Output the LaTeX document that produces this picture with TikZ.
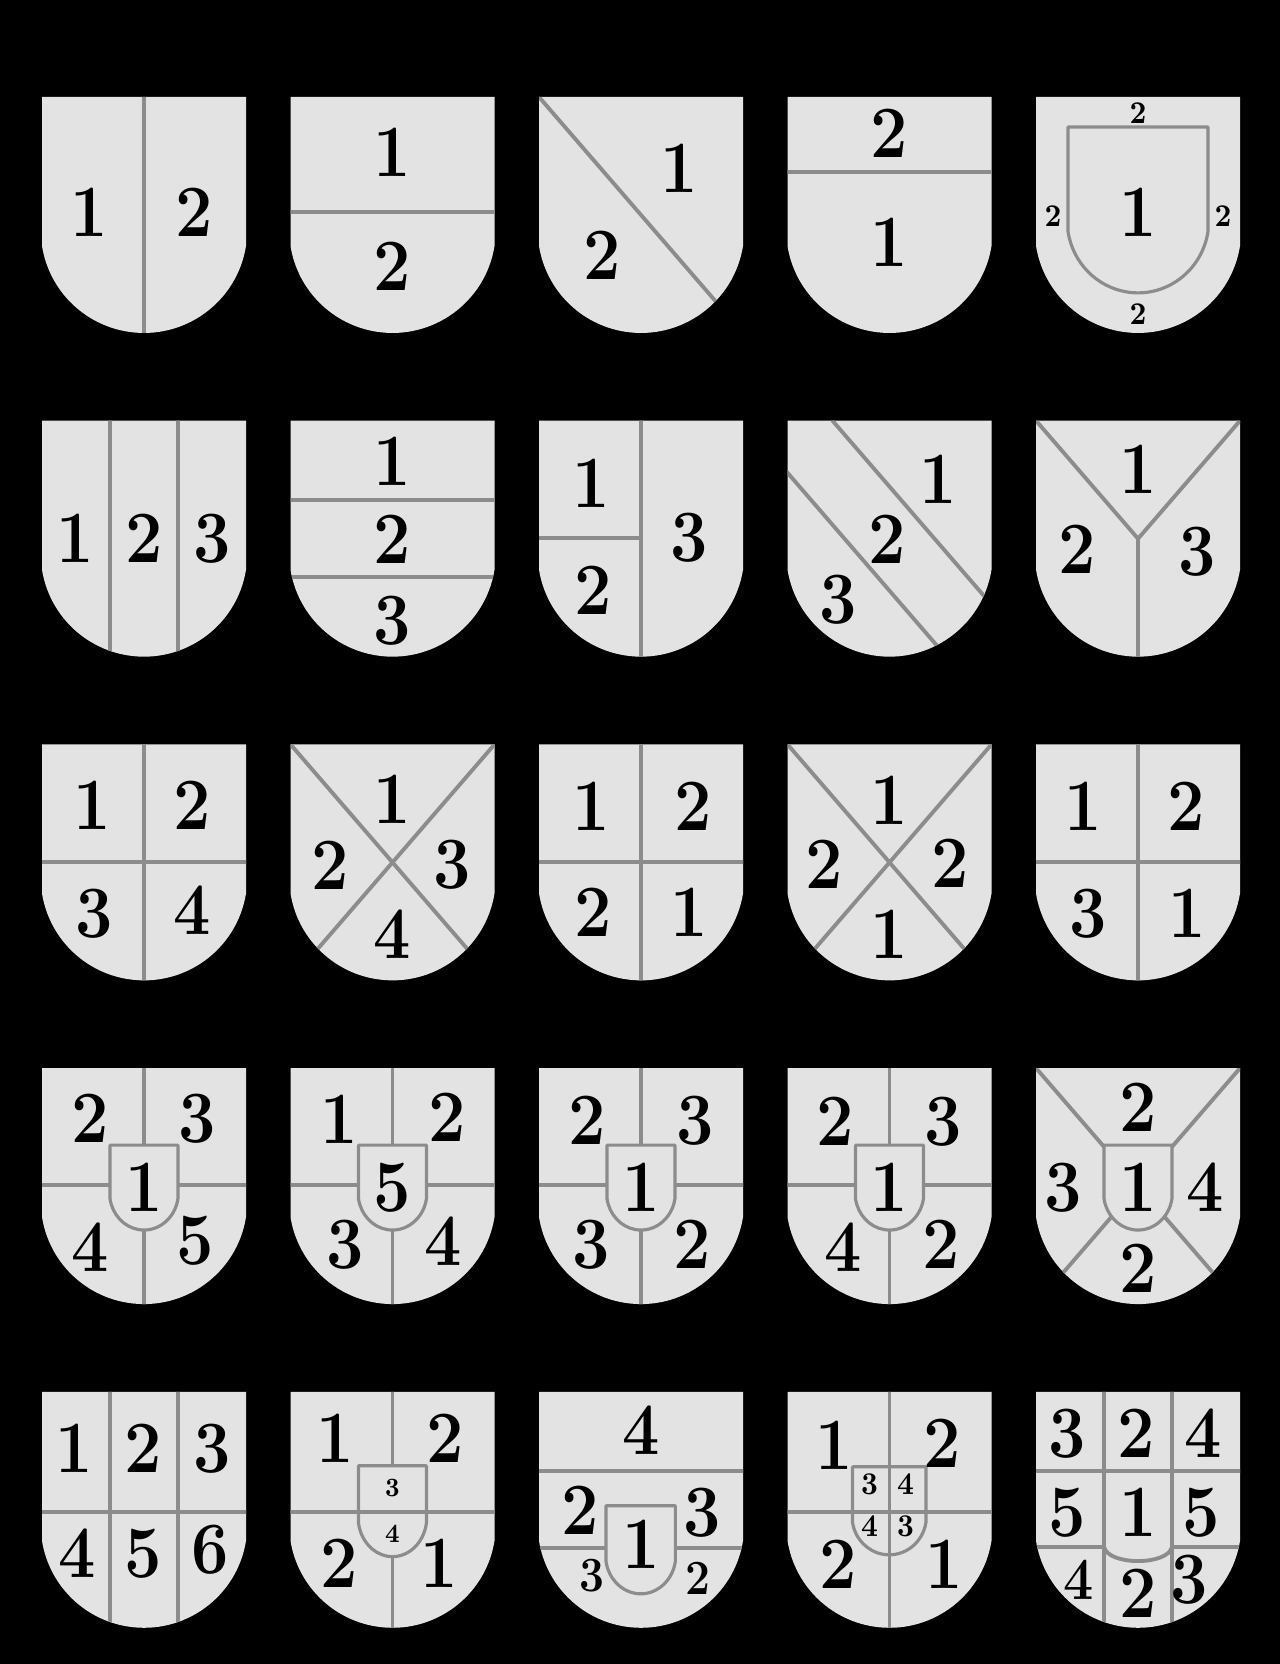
\documentclass[tikz,border=0pt]{standalone}

\definecolor{shieldgray}{RGB}{227,227,227}
\definecolor{divgray}{RGB}{140,140,140}
\def\W{2.04}
\def\H{2.36}
\newcommand{\shieldpath}{(0,0) -- (\W,0) -- (\W,-1.49) arc[start angle=-9.1,end angle=-170.9,radius=1.033] -- cycle}
\newcommand{\shieldbase}{\fill[shieldgray] \shieldpath; \clip \shieldpath;}
\newcommand{\inset}[4]{\begin{scope}[shift={(#1,#2)},xscale=#3,yscale=#4]\filldraw[fill=shieldgray,draw=divgray,line width=0.9pt] \shieldpath;\end{scope}}

\begin{document}
\begin{tikzpicture}[line cap=round,line join=round,
  every node/.style={inner sep=0pt},
  num/.style={anchor=base,xscale=0.9,font=\fontsize{21}{21}\selectfont\bfseries},
  mid/.style={num,font=\fontsize{14}{14}\selectfont\bfseries},
  sml/.style={num,font=\fontsize{9}{9}\selectfont\bfseries},
  tny/.style={num,font=\fontsize{7.5}{7.5}\selectfont\bfseries},
  div/.style={draw=divgray,line width=1.1pt}]
  \def\cA{0.42}
  \def\cB{2.905}
  \def\cC{5.39}
  \def\cD{7.875}
  \def\cE{10.36}
  \def\rA{-0.97}
  \def\rB{-4.207}
  \def\rC{-7.444}
  \def\rD{-10.681}
  \def\rE{-13.918}
  \useasboundingbox (0,0) rectangle (12.8,-16.64);
  \fill[black] (0,0) rectangle (12.8,-16.64);

  % row 1
  \begin{scope}[shift={(\cA,\rA)}]
    \begin{scope}\shieldbase
      \draw[div] (1.02,0) -- (1.02,-\H);
    \end{scope}
    \node[num] (s11a) at (0.47,-1.40) {1};
    \node[num] (s11b) at (1.52,-1.40) {2};
  \end{scope}
  \begin{scope}[shift={(\cB,\rA)}]
    \begin{scope}\shieldbase
      \draw[div] (0,-1.15) -- (\W,-1.15);
    \end{scope}
    \node[num] (s12a) at (1.02,-0.80) {1};
    \node[num] (s12b) at (1.02,-1.94) {2};
  \end{scope}
  \begin{scope}[shift={(\cC,\rA)}]
    \begin{scope}\shieldbase
      \draw[div] (0,0) -- (\W,-\H);
    \end{scope}
    \node[num] (s13a) at (1.40,-0.96) {1};
    \node[num] (s13b) at (0.63,-1.83) {2};
  \end{scope}
  \begin{scope}[shift={(\cD,\rA)}]
    \begin{scope}\shieldbase
      \draw[div] (0,-0.75) -- (\W,-0.75);
    \end{scope}
    \node[num] (s14a) at (1.02,-0.61) {2};
    \node[num] (s14b) at (1.02,-1.70) {1};
  \end{scope}
  \begin{scope}[shift={(\cE,\rA)}]
    \begin{scope}\shieldbase
      \inset{0.32}{-0.30}{0.686}{0.703}
    \end{scope}
    \node[num] (s15a) at (1.02,-1.40) {1};
    \node[sml] (s15b) at (1.02,-0.27) {2};
    \node[sml] (s15c) at (0.17,-1.30) {2};
    \node[sml] (s15d) at (1.87,-1.30) {2};
    \node[sml] (s15e) at (1.02,-2.28) {2};
  \end{scope}

  % row 2
  \begin{scope}[shift={(\cA,\rB)}]
    \begin{scope}\shieldbase
      \draw[div] (0.68,0) -- (0.68,-\H) (1.36,0) -- (1.36,-\H);
    \end{scope}
    \node[num] (s21a) at (0.33,-1.42) {1};
    \node[num] (s21b) at (1.02,-1.42) {2};
    \node[num] (s21c) at (1.70,-1.42) {3};
  \end{scope}
  \begin{scope}[shift={(\cB,\rB)}]
    \begin{scope}\shieldbase
      \draw[div] (0,-0.79) -- (\W,-0.79) (0,-1.56) -- (\W,-1.56);
    \end{scope}
    \node[num] (s22a) at (1.02,-0.65) {1};
    \node[num] (s22b) at (1.02,-1.43) {2};
    \node[num] (s22c) at (1.02,-2.24) {3};
  \end{scope}
  \begin{scope}[shift={(\cC,\rB)}]
    \begin{scope}\shieldbase
      \draw[div] (1.02,0) -- (1.02,-\H) (0,-1.17) -- (1.02,-1.17);
    \end{scope}
    \node[num] (s23a) at (0.52,-0.87) {1};
    \node[num] (s23b) at (0.54,-1.94) {2};
    \node[num] (s23c) at (1.50,-1.41) {3};
  \end{scope}
  \begin{scope}[shift={(\cD,\rB)}]
    \begin{scope}\shieldbase
      \draw[div] (0.45,0) -- ({\W+0.45},-\H) (-0.45,0) -- ({\W-0.45},-\H);
    \end{scope}
    \node[num] (s24a) at (1.51,-0.83) {1};
    \node[num] (s24b) at (1.00,-1.43) {2};
    \node[num] (s24c) at (0.51,-2.03) {3};
  \end{scope}
  \begin{scope}[shift={(\cE,\rB)}]
    \begin{scope}\shieldbase
      \draw[div] (0,0) -- (1.02,-1.18) -- (\W,0) (1.02,-1.18) -- (1.02,-\H);
    \end{scope}
    \node[num] (s25a) at (1.02,-0.73) {1};
    \node[num] (s25b) at (0.41,-1.53) {2};
    \node[num] (s25c) at (1.61,-1.55) {3};
  \end{scope}

  % row 3
  \begin{scope}[shift={(\cA,\rC)}]
    \begin{scope}\shieldbase
      \draw[div] (1.02,0) -- (1.02,-\H) (0,-1.18) -- (\W,-1.18);
    \end{scope}
    \node[num] (s31a) at (0.50,-0.85) {1};
    \node[num] (s31b) at (1.50,-0.85) {2};
    \node[num] (s31c) at (0.52,-1.93) {3};
    \node[num] (s31d) at (1.50,-1.90) {4};
  \end{scope}
  \begin{scope}[shift={(\cB,\rC)}]
    \begin{scope}\shieldbase
      \draw[div] (0,0) -- (\W,-\H) (\W,0) -- (0,-\H);
    \end{scope}
    \node[num] (s32a) at (1.02,-0.79) {1};
    \node[num] (s32b) at (0.40,-1.45) {2};
    \node[num] (s32c) at (1.62,-1.44) {3};
    \node[num] (s32d) at (1.02,-2.14) {4};
  \end{scope}
  \begin{scope}[shift={(\cC,\rC)}]
    \begin{scope}\shieldbase
      \draw[div] (1.02,0) -- (1.02,-\H) (0,-1.18) -- (\W,-1.18);
    \end{scope}
    \node[num] (s33a) at (0.52,-0.86) {1};
    \node[num] (s33b) at (1.54,-0.86) {2};
    \node[num] (s33c) at (0.54,-1.92) {2};
    \node[num] (s33d) at (1.50,-1.92) {1};
  \end{scope}
  \begin{scope}[shift={(\cD,\rC)}]
    \begin{scope}\shieldbase
      \draw[div] (0,0) -- (\W,-\H) (\W,0) -- (0,-\H);
    \end{scope}
    \node[num] (s34a) at (1.02,-0.80) {1};
    \node[num] (s34b) at (0.37,-1.44) {2};
    \node[num] (s34c) at (1.63,-1.43) {2};
    \node[num] (s34d) at (1.02,-2.14) {1};
  \end{scope}
  \begin{scope}[shift={(\cE,\rC)}]
    \begin{scope}\shieldbase
      \draw[div] (1.02,0) -- (1.02,-\H) (0,-1.18) -- (\W,-1.18);
    \end{scope}
    \node[num] (s35a) at (0.47,-0.86) {1};
    \node[num] (s35b) at (1.50,-0.86) {2};
    \node[num] (s35c) at (0.52,-1.93) {3};
    \node[num] (s35d) at (1.51,-1.93) {1};
  \end{scope}

  % row 4
  \begin{scope}[shift={(\cA,\rD)}]
    \begin{scope}\shieldbase
      \draw[div] (1.02,0) -- (1.02,-\H) (0,-1.17) -- (\W,-1.17);
      \inset{0.68}{-0.77}{0.333}{0.36}
    \end{scope}
    \node[num] (s41a) at (0.48,-0.74) {2};
    \node[num] (s41b) at (1.55,-0.74) {3};
    \node[num] (s41c) at (1.02,-1.43) {1};
    \node[num] (s41d) at (0.48,-2.03) {4};
    \node[num] (s41e) at (1.53,-1.96) {5};
  \end{scope}
  \begin{scope}[shift={(\cB,\rD)}]
    \begin{scope}\shieldbase
      \draw[div] (1.02,0) -- (1.02,-\H) (0,-1.17) -- (\W,-1.17);
      \inset{0.68}{-0.77}{0.333}{0.36}
    \end{scope}
    \node[num] (s42a) at (0.49,-0.75) {1};
    \node[num] (s42b) at (1.57,-0.73) {2};
    \node[num] (s42c) at (1.02,-1.43) {5};
    \node[num] (s42d) at (0.55,-2.00) {3};
    \node[num] (s42e) at (1.53,-1.97) {4};
  \end{scope}
  \begin{scope}[shift={(\cC,\rD)}]
    \begin{scope}\shieldbase
      \draw[div] (1.02,0) -- (1.02,-\H) (0,-1.17) -- (\W,-1.17);
      \inset{0.68}{-0.77}{0.333}{0.36}
    \end{scope}
    \node[num] (s43a) at (0.48,-0.76) {2};
    \node[num] (s43b) at (1.56,-0.76) {3};
    \node[num] (s43c) at (1.02,-1.43) {1};
    \node[num] (s43d) at (0.52,-2.00) {3};
    \node[num] (s43e) at (1.53,-2.00) {2};
  \end{scope}
  \begin{scope}[shift={(\cD,\rD)}]
    \begin{scope}\shieldbase
      \draw[div] (1.02,0) -- (1.02,-\H) (0,-1.17) -- (\W,-1.17);
      \inset{0.68}{-0.77}{0.333}{0.36}
    \end{scope}
    \node[num] (s44a) at (0.48,-0.77) {2};
    \node[num] (s44b) at (1.56,-0.77) {3};
    \node[num] (s44c) at (1.02,-1.43) {1};
    \node[num] (s44d) at (0.56,-2.03) {4};
    \node[num] (s44e) at (1.54,-2.00) {2};
  \end{scope}
  \begin{scope}[shift={(\cE,\rD)}]
    \begin{scope}\shieldbase
      \draw[div] (0,0) -- (\W,-\H) (\W,0) -- (0,-\H);
      \inset{0.68}{-0.77}{0.333}{0.36}
    \end{scope}
    \node[num] (s45a) at (1.02,-0.63) {2};
    \node[num] (s45b) at (0.27,-1.43) {3};
    \node[num] (s45c) at (1.02,-1.43) {1};
    \node[num] (s45d) at (1.69,-1.43) {4};
    \node[num] (s45e) at (1.02,-2.24) {2};
  \end{scope}

  % row 5
  \begin{scope}[shift={(\cA,\rE)}]
    \begin{scope}\shieldbase
      \draw[div] (0.68,0) -- (0.68,-\H) (1.36,0) -- (1.36,-\H) (0,-1.20) -- (\W,-1.20);
    \end{scope}
    \node[num] (s51a) at (0.32,-0.81) {1};
    \node[num] (s51b) at (1.01,-0.81) {2};
    \node[num] (s51c) at (1.70,-0.81) {3};
    \node[num] (s51d) at (0.35,-1.86) {4};
    \node[num] (s51e) at (1.01,-1.86) {5};
    \node[num] (s51f) at (1.68,-1.82) {6};
  \end{scope}
  \begin{scope}[shift={(\cB,\rE)}]
    \begin{scope}\shieldbase
      \draw[div] (1.02,0) -- (1.02,-\H);
      \inset{0.68}{-0.74}{0.333}{0.385}
      \draw[div] (0,-1.20) -- (\W,-1.20);
    \end{scope}
    \node[num] (s52a) at (0.45,-0.71) {1};
    \node[num] (s52b) at (1.55,-0.71) {2};
    \node[num] (s52c) at (0.49,-1.96) {2};
    \node[num] (s52d) at (1.49,-1.96) {1};
    \node[tny] (s52e) at (1.02,-1.05) {3};
    \node[tny] (s52f) at (1.02,-1.51) {4};
  \end{scope}
  \begin{scope}[shift={(\cC,\rE)}]
    \begin{scope}\shieldbase
      \draw[div] (0,-0.79) -- (\W,-0.79) (0,-1.56) -- (\W,-1.56);
      \inset{0.67}{-1.14}{0.34}{0.373}
    \end{scope}
    \node[num] (s53a) at (1.02,-0.63) {4};
    \node[num] (s53b) at (0.41,-1.43) {2};
    \node[num] (s53c) at (1.63,-1.45) {3};
    \node[num] (s53d) at (1.02,-1.77) {1};
    \node[mid] (s53e) at (0.53,-2.00) {3};
    \node[mid] (s53f) at (1.59,-2.03) {2};
  \end{scope}
  \begin{scope}[shift={(\cD,\rE)}]
    \begin{scope}\shieldbase
      \inset{0.65}{-0.75}{0.36}{0.373}
      \draw[div] (1.02,0) -- (1.02,-\H) (0,-1.20) -- (\W,-1.20);
    \end{scope}
    \node[num] (s54a) at (0.47,-0.78) {1};
    \node[num] (s54b) at (1.55,-0.76) {2};
    \node[num] (s54c) at (0.51,-1.97) {2};
    \node[num] (s54d) at (1.57,-1.97) {1};
    \node[sml] (s54e) at (0.82,-1.03) {3};
    \node[sml] (s54f) at (1.18,-1.03) {4};
    \node[sml] (s54g) at (0.82,-1.45) {4};
    \node[sml] (s54h) at (1.18,-1.45) {3};
  \end{scope}
  \begin{scope}[shift={(\cE,\rE)}]
    \begin{scope}\shieldbase
      \draw[div] (0.68,0) -- (0.68,-\H) (1.36,0) -- (1.36,-\H) (0,-0.79) -- (\W,-0.79);
      \draw[div] (0,-1.55) -- (0.68,-1.55) (1.36,-1.55) -- (\W,-1.55);
      \draw[div] (0.68,-1.55) .. controls (0.72,-1.74) and (1.32,-1.74) .. (1.36,-1.55);
    \end{scope}
    \node[num] (s55a) at (0.31,-0.66) {3};
    \node[num] (s55b) at (1.00,-0.66) {2};
    \node[num] (s55c) at (1.67,-0.66) {4};
    \node[num] (s55d) at (0.31,-1.45) {5};
    \node[num] (s55e) at (1.02,-1.45) {1};
    \node[num] (s55f) at (1.65,-1.45) {5};
    \node[num,font=\fontsize{17}{17}\selectfont\bfseries] (s55g) at (0.43,-2.08) {4};
    \node[num] (s55h) at (1.02,-2.26) {2};
    \node[num] (s55i) at (1.53,-2.12) {3};
  \end{scope}
\end{tikzpicture}
\end{document}
